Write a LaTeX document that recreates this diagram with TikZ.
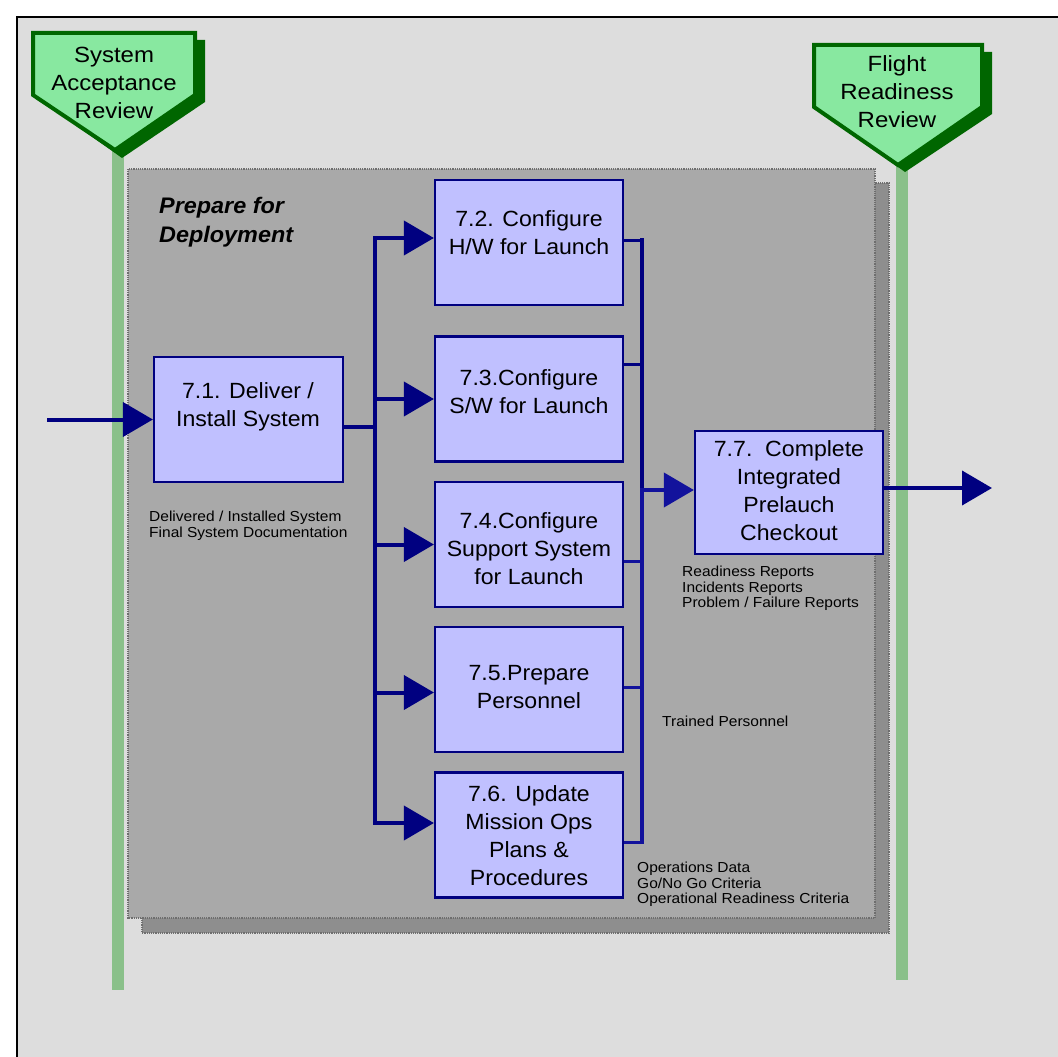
\documentclass[tikz,border=0pt]{standalone}
\usepackage{fontspec}
\setmainfont{Liberation Sans}
\newfontfamily\boxfont{Liberation Sans}[FakeStretch=1.05]
\newfontfamily\msfont{Liberation Sans}[FakeStretch=1.09]
\newfontfamily\notefont{Liberation Sans}[FakeStretch=1.07]
\newfontfamily\titlefont{Liberation Sans}[FakeStretch=1.04]
\usetikzlibrary{arrows.meta,calc}

\definecolor{bgc}{HTML}{DDDDDD}
\definecolor{panelc}{HTML}{A9A9A9}
\definecolor{panelsh}{HTML}{8E8E8E}
\definecolor{paneledge}{HTML}{6E6E6E}
\definecolor{msfill}{HTML}{88E8A0}
\definecolor{msdark}{HTML}{006600}
\definecolor{polec}{HTML}{8AC08A}
\definecolor{procfill}{HTML}{C0C0FF}
\definecolor{navyc}{HTML}{000080}
\definecolor{bluec}{HTML}{12129C}

\begin{document}
\begin{tikzpicture}[x=1pt,y=-1pt,
  proc/.style={draw=navyc, fill=procfill, line width=2.2pt,
    minimum width=188pt, minimum height=125pt, inner sep=0pt},
  proctext/.style={align=center, inner sep=0pt, font=\boxfont\fontsize{22}{28}\selectfont},
  mstext/.style={align=center, inner sep=0pt, font=\msfont\fontsize{22}{28}\selectfont},
  note/.style={align=left, anchor=north west, inner sep=0pt,
    font=\notefont\fontsize{14.5}{15.5}\selectfont},
  flow/.style={draw=navyc, line width=4pt},
  link/.style={draw=navyc, line width=3pt},
  tip/.style={-{Triangle[length=30pt,width=34pt]}},
  milestone/.style={fill=msfill, draw=msdark, line width=4pt, line join=miter},
  msshadow/.style={fill=msdark},
  pole/.style={fill=polec},
]
\useasboundingbox (0,0) rectangle (1058,1057);

% page and frame
\fill[white] (0,0) rectangle (1058,1057);
\filldraw[fill=bgc, draw=black, line width=1.5pt] (17,17) rectangle (1062,1062);

% review poles
\fill[pole] (112,150) rectangle (124,990);
\fill[pole] (896,165) rectangle (908,980);

% activity panel with its shadow
\filldraw[fill=panelsh, draw=paneledge, densely dotted, line width=1.2pt]
  (142,183) rectangle (889,933);
\filldraw[fill=panelc, draw=paneledge, densely dotted, line width=1.2pt]
  (128,169) rectangle (875,918);

% milestones
\fill[msshadow] (43,40) -- (205,40) -- (205,102) -- (122,158) -- (43,102) -- cycle;
\draw[milestone] (33,33) -- (195,33) -- (195,95) -- (115,150) -- (33,95) -- cycle;
\node[mstext] (ms1) at (114,83) {System\\Acceptance\\Review};

\fill[msshadow] (824,52) -- (992,52) -- (992,114) -- (905,172) -- (824,114) -- cycle;
\draw[milestone] (814,45) -- (982,45) -- (982,107) -- (898,165) -- (814,107) -- cycle;
\node[mstext] (ms2) at (897,92) {Flight\\Readiness\\Review};

% title of the activity
\node[anchor=north west, inner sep=0pt, align=left,
  font=\titlefont\fontsize{22.5}{29}\selectfont\bfseries\itshape] (title) at (159,197)
  {Prepare for\\Deployment};

% process boxes
\node[proc, minimum width=189pt] (b71) at (248.5,419.5) {};
\node[proc] (b72) at (529,242.5) {};
\node[proc] (b73) at (529,399) {};
\node[proc] (b74) at (529,544.5) {};
\node[proc] (b75) at (529,689.5) {};
\node[proc] (b76) at (529,835) {};
\node[proc, minimum height=123pt] (b77) at (789,492.5) {};

\node[proctext] (t71) at (248,407) {7.1. Deliver /\\Install System};
\node[proctext] (t72) at (529,233) {7.2. Configure\\H/W for Launch};
\node[proctext] (t73) at (529,392) {7.3.Configure\\S/W for Launch};
\node[proctext] (t74) at (529,549) {7.4.Configure\\Support System\\for Launch};
\node[proctext] (t75) at (529,687) {7.5.Prepare\\Personnel};
\node[proctext] (t76) at (529,835.5) {7.6. Update\\Mission Ops\\Plans \&\\Procedures};
\node[proctext] (t77) at (789,491) {7.7.\ \ Complete\\Integrated\\Prelauch\\Checkout};

% outputs
\node[note] (n71) at (149,511) {Delivered / Installed System\\Final System Documentation};
\node[note] (n77) at (682,566) {Readiness Reports\\Incidents Reports\\Problem / Failure Reports};
\node[note] (n75) at (662,716) {Trained Personnel};
\node[note] (n76) at (637,862) {Operations Data\\Go/No Go Criteria\\Operational Readiness Criteria};

% connector anchors
\coordinate (in) at (47,419.5);
\coordinate (lb) at (375,0);
\coordinate (rb) at (642,0);
\coordinate (out) at (992,0);
\coordinate (o71) at ([yshift=-7.5pt]b71.east);
\coordinate (a72) at ([yshift=4.5pt]b72.west);
\coordinate (a73) at (b73.west);
\coordinate (a74) at (b74.west);
\coordinate (a75) at ([yshift=-3pt]b75.west);
\coordinate (a76) at ([yshift=12pt]b76.west);
\coordinate (c72) at ([yshift=2.5pt]b72.east);
\coordinate (c73) at ([yshift=35pt]b73.east);
\coordinate (c74) at ([yshift=-16.5pt]b74.east);
\coordinate (c75) at ([yshift=2.5pt]b75.east);
\coordinate (c76) at ([yshift=-7pt]b76.east);
\coordinate (a77) at ([yshift=2.5pt]b77.west);
\coordinate (o77) at ([yshift=4.5pt]b77.east);

% input and fan-out
\draw[flow,tip] (in) -- (b71.west);
\draw[flow] (o71) -- (lb |- o71);
\draw[flow,tip] (lb |- a74) -- (lb |- a72) -- (a72);
\draw[flow,tip] (lb |- a74) -- (lb |- a76) -- (a76);
\draw[flow,tip] (lb |- a73) -- (a73);
\draw[flow,tip] (lb |- a74) -- (a74);
\draw[flow,tip] (lb |- a75) -- (a75);

% fan-in to the checkout
\draw[link] (c72) -- (rb |- c72);
\draw[link] (c73) -- (rb |- c73);
\draw[link, draw=bluec] (c74) -- (rb |- c74);
\draw[link, draw=bluec] (c75) -- (rb |- c75);
\draw[link, draw=bluec] (c76) -- (rb |- c76);
\draw[flow, line cap=rect] (rb |- c72) -- (rb |- a77);
\draw[flow, draw=bluec, line cap=rect] (rb |- a77) -- (rb |- c76);
\draw[flow, draw=bluec, tip] (rb |- a77) -- (a77);

% result
\draw[flow,tip] (o77) -- (out |- o77);
\end{tikzpicture}
\end{document}
